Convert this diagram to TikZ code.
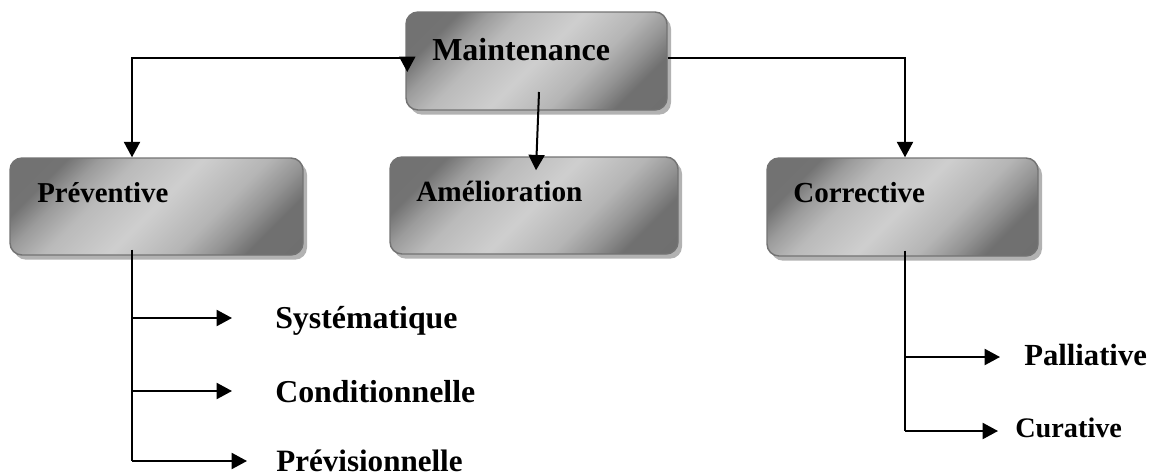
\documentclass[tikz,border=0pt]{standalone}
\usepackage{fontspec}
\setmainfont{Liberation Serif}
\usetikzlibrary{arrows.meta,shadows,calc}

% light band across the middle, darker towards two opposite corners
% (the part between 25bp and 75bp spans the box corner to corner)
\pgfdeclareverticalshading{boxfill}{100bp}{%
  color(0bp)=(black!57); color(25bp)=(black!56); color(31bp)=(black!42);
  color(38bp)=(black!29); color(50bp)=(black!19); color(62bp)=(black!27);
  color(69bp)=(black!39); color(75bp)=(black!55); color(100bp)=(black!56)}

\begin{document}
\begin{tikzpicture}[x=0.75pt,y=-0.75pt,
  box/.style={draw=black!55, line width=1.1pt, rounded corners=9pt,
    shading=boxfill, shading angle=45, inner sep=0pt,
    drop shadow={shadow xshift=3pt, shadow yshift=-3.5pt, fill=black!30, opacity=1}},
  lbl/.style={anchor=base west, inner sep=0pt},
  arr/.style={line width=1.5pt, -{Triangle[length=11.5pt,width=12pt]}},
  stem/.style={line width=1.5pt}
]
\useasboundingbox (0,0) rectangle (1159,475);

% category boxes
\node[box, minimum width=195.75pt, minimum height=73.5pt] (mnt) at (536.5,61) {};
\node[box, minimum width=219.75pt, minimum height=72.75pt] (prev) at (156.5,206.5) {};
\node[box, minimum width=216pt, minimum height=72.75pt] (amel) at (534,205.5) {};
\node[box, minimum width=203.25pt, minimum height=73.5pt] (corr) at (902.5,207) {};

% box titles
\node[lbl, font=\bfseries\fontsize{24}{28}\selectfont] (mnt-t) at (432,60) {Maintenance};
\node[lbl, font=\bfseries\fontsize{21.6}{26}\selectfont] (prev-t) at (37,202) {Préventive};
\node[lbl, font=\bfseries\fontsize{22}{26}\selectfont] (amel-t) at (416,201) {Amélioration};
\node[lbl, font=\bfseries\fontsize{21.8}{26}\selectfont] (corr-t) at (793,202) {Corrective};

% sub-types
\node[lbl, font=\bfseries\fontsize{23.9}{28}\selectfont] (sys) at (275,328) {Systématique};
\node[lbl, font=\bfseries\fontsize{23.9}{28}\selectfont] (cond) at (275,402) {Conditionnelle};
\node[lbl, font=\bfseries\fontsize{23.3}{28}\selectfont] (previs) at (276,471) {Prévisionnelle};
\node[lbl, font=\bfseries\fontsize{23}{28}\selectfont] (pall) at (1024,365) {Palliative};
\node[lbl, font=\bfseries\fontsize{21.2}{26}\selectfont] (cur) at (1015,437) {Curative};

% main branches
\draw[arr] ($(mnt.west)+(0,-3)$) -| ($(prev.north)+(-24.5,0)$);
\draw[arr] ($(mnt.west)+(2,-3)$) -- ++(0,14);
\draw[arr] ($(mnt.center)+(2.5,31)$) -- ($(amel.north)+(2,14)$);
\draw[arr] ($(mnt.east)+(0,-3)$) -| ($(corr.north)+(2.5,0)$);

% preventive sub-types
\coordinate (ps) at ($(prev.south)+(-24.5,-6)$);
\coordinate (sysend) at (232,318);
\coordinate (condend) at (232,391);
\coordinate (prevend) at (247,461);
\draw[stem] (ps) -- (ps |- prevend);
\draw[arr] (ps |- sysend) -- (sysend);
\draw[arr] (ps |- condend) -- (condend);
\draw[arr] (ps |- prevend) -- (prevend);

% corrective sub-types
\coordinate (cs) at ($(corr.south)+(2.5,-6)$);
\coordinate (pallend) at (1000,357);
\coordinate (curend) at (998,431);
\draw[stem] (cs) -- (cs |- curend);
\draw[arr] (cs |- pallend) -- (pallend);
\draw[arr] (cs |- curend) -- (curend);
\end{tikzpicture}
\end{document}
